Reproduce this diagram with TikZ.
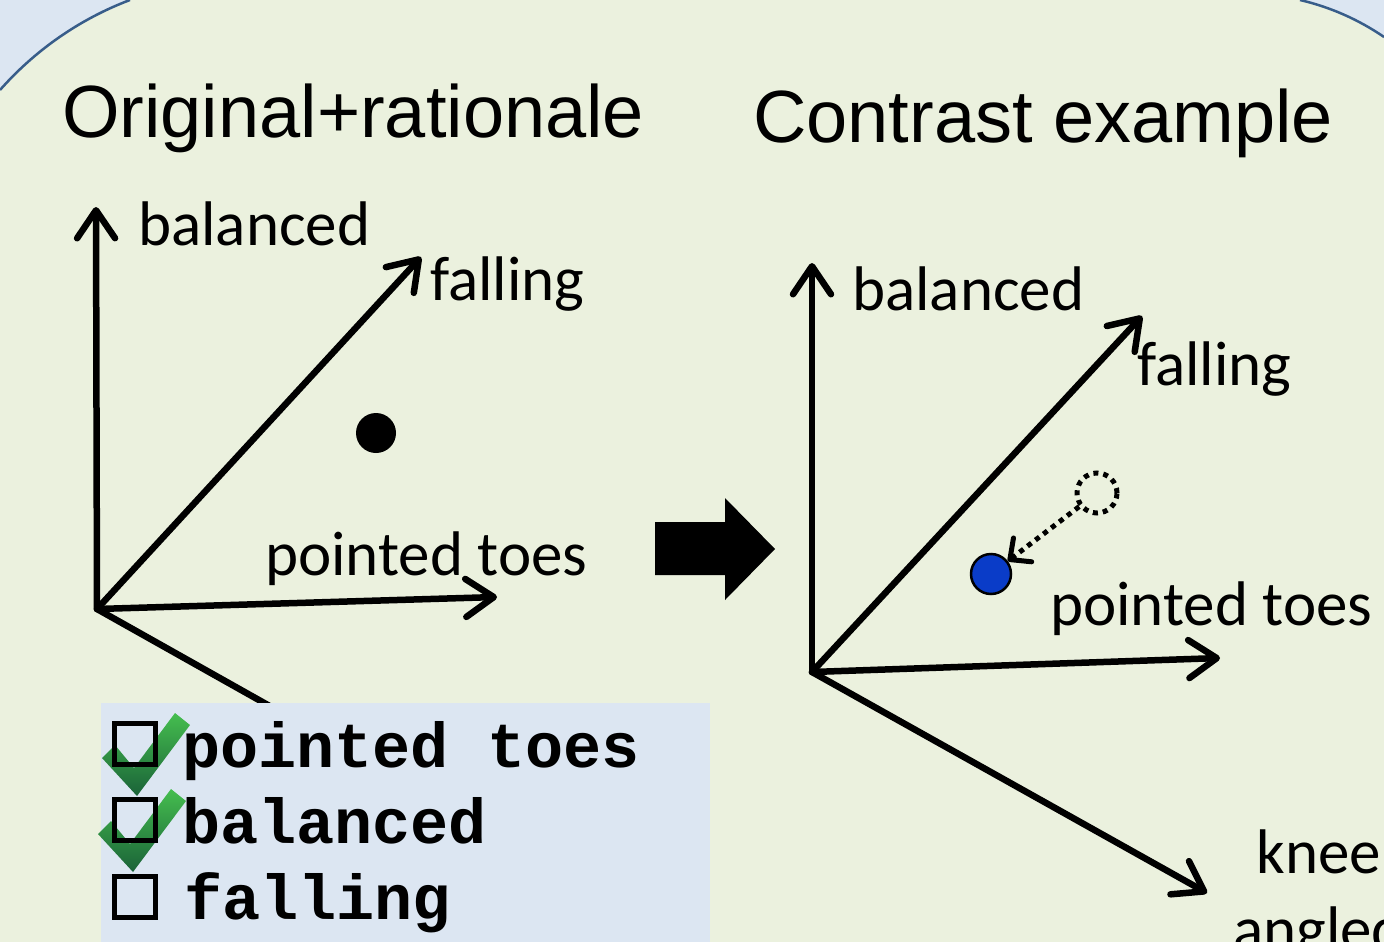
\documentclass[tikz,border=0pt]{standalone}
\usepackage{fontspec}
\setmainfont{Carlito}
\newfontfamily\titlefont{Liberation Sans}
\newfontfamily\listfont{Liberation Mono}
\usetikzlibrary{arrows.meta, positioning}
\definecolor{slideblue}{HTML}{DCE6F2}
\definecolor{panelgreen}{HTML}{EBF1DE}
\definecolor{edgeblue}{HTML}{385D8A}
\definecolor{dotblue}{HTML}{0A3CC8}
\definecolor{tickgreen}{HTML}{45BE4F}
\definecolor{tickdark}{HTML}{1A6238}
\tikzstyle{axis} = [line width=6.5pt, line cap=round, -{Straight Barb[length=28pt, width=38pt, round]}]
\tikzstyle{title} = [font=\titlefont\fontsize{74}{80}\selectfont, anchor=base west, inner sep=0]
\tikzstyle{axislabel} = [font=\fontsize{63}{77}\selectfont, anchor=base west, inner sep=0]
\tikzstyle{item} = [font=\listfont\bfseries\fontsize{63.5}{70}\selectfont, anchor=base west, inner sep=0]
\tikzstyle{checkbox} = [draw, line width=4.5pt, minimum size=41pt, inner sep=0]
\tikzstyle{point} = [circle, minimum size=40pt, inner sep=0]
\newcommand{\tickmark}[1]{%
  \shade[top color=tickgreen, bottom color=tickdark, shift={#1}]
    (102,758) -- (115,745) -- (134,768) -- (175,713) -- (190,725) -- (137,796) -- cycle;}

\begin{document}
\begin{tikzpicture}[x=1pt, y=-1pt]
        \clip (0,0) rectangle (1384,942);
        % slide background and the rounded panel
        \fill[slideblue] (0,0) rectangle (1384,942);
        \fill[panelgreen] (0,942) -- (0,90) .. controls (35.4,49.9) and (80,18.9) .. (130,0)
            -- (1300,0) .. controls (1330,7) and (1358.5,19.5) .. (1384,37) -- (1384,942) -- cycle;
        \draw[edgeblue, line width=2.5pt] (0,90) .. controls (35.4,49.9) and (80,18.9) .. (130,0);
        \draw[edgeblue, line width=2.5pt] (1300,0) .. controls (1330,7) and (1358.5,19.5) .. (1384,37);

        \node[title] (lefttitle) at (62,137) {Original+rationale};
        \node[title] (righttitle) at (753,142) {Contrast example};

        % left space
        \coordinate (lo) at (97,609);
        \coordinate (lbal) at (96,207);
        \coordinate (lfal) at (421,257);
        \coordinate (ltoe) at (497,597);
        \coordinate (lknee) at (492,831);
        \draw[axis] (lo) -- (lbal);
        \draw[axis] (lo) -- (lfal);
        \draw[axis] (lo) -- (ltoe);
        \draw[axis] (lo) -- (lknee);
        \node[axislabel] (lballabel) at (138,245) {balanced};
        \node[axislabel] (lfallabel) at (430,300) {falling};
        \node[axislabel] (ltoelabel) at (265,575) {pointed toes};
        \node[point, fill=black] (orig) at (376,433) {};

        % big arrow between the panels
        \fill (655,522) -- (725,522) -- (725,498) -- (775,549) -- (725,600) -- (725,575) -- (655,575) -- cycle;

        % right space
        \coordinate (ro) at (812,672);
        \coordinate (rbal) at (812,263);
        \coordinate (rfal) at (1142,316);
        \coordinate (rtoe) at (1220,658);
        \coordinate (rknee) at (1207,893);
        \draw[axis] (ro) -- (rbal);
        \draw[axis] (ro) -- (rfal);
        \draw[axis] (ro) -- (rtoe);
        \draw[axis] (ro) -- (rknee);
        \node[axislabel] (rballabel) at (852,310) {balanced};
        \node[axislabel] (rfallabel) at (1137,385) {falling};
        \node[axislabel] (rtoelabel) at (1050,625) {pointed toes};
        \node[axislabel, anchor=base] (kneelabel) at (1319,873) {knee};
        \node[axislabel, anchor=base] (angledlabel) at (1319,950) {angled};
        \node[point, draw, line width=5pt, dash pattern=on 5pt off 5pt] (ghost) at (1097,493) {};
        \node[point, fill=dotblue, draw, line width=2.5pt] (moved) at (991,574) {};
        \draw[line width=5pt, dash pattern=on 5pt off 5pt, -{Straight Barb[length=16pt, width=30pt, round]}]
            (ghost) -- (moved);

        % rationale checklist
        \fill[slideblue] (101,703) rectangle (710,960);
        \tickmark{(0,0)}
        \tickmark{(-4,76)}
        \node[checkbox] (box1) at (135,744) {};
        \node[checkbox] (box2) at (135,820) {};
        \node[checkbox] (box3) at (135,897) {};
        \node[item] (item1) at (182,767) {pointed toes};
        \node[item] (item2) at (182,843) {balanced};
        \node[item] (item3) at (184,919) {falling};
    \end{tikzpicture}
\end{document}
